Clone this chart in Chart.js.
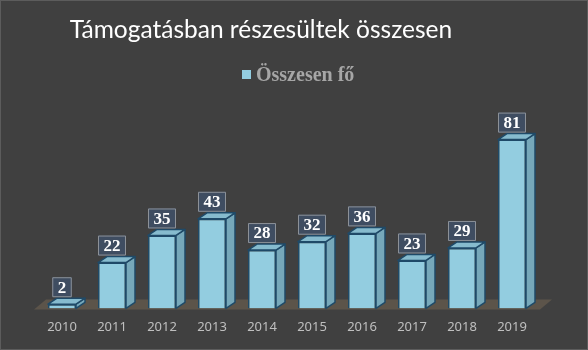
<!DOCTYPE html>
<html>
<head>
<meta charset="utf-8">
<script src="https://cdn.jsdelivr.net/npm/chart.js@4/dist/chart.umd.min.js"></script>
<style>
  html, body { margin: 0; padding: 0; background: #404040; }
  #wrap { position: relative; width: 588px; height: 350px; overflow: hidden; }
  #wrap canvas { position: absolute; left: 0; top: 0; }
  #title {
    position: absolute; left: 0; top: 13px; width: 522px;
    text-align: center; color: #ffffff;
    font: 24.5px Lato, "Noto Sans", sans-serif; line-height: 32px;
  }
  #legend {
    position: absolute; left: 242px; top: 63px; height: 22px;
    display: flex; align-items: center;
    font: bold 20px "Liberation Serif", serif; color: #a6a6a6;
  }
  #legend .swatch { width: 9px; height: 9px; margin-right: 5px; }
  #frame { position: absolute; inset: 0; border: 1px solid #5c5c5c; pointer-events: none; }
</style>
</head>
<body>
<div id="wrap">
  <canvas id="chart" width="588" height="350"></canvas>
  <div id="title"></div>
  <div id="legend"><span class="swatch"></span><span class="label"></span></div>
  <div id="frame"></div>
</div>
<script>
const chartTitle = "Támogatásban részesültek összesen";
const seriesName = "Összesen fő";
const years = ["2010", "2011", "2012", "2013", "2014", "2015", "2016", "2017", "2018", "2019"];
const totals = [2, 22, 35, 43, 28, 32, 36, 23, 29, 81];

const frontColor = "#93cde0";
const sideColor = "#76a8ba";
const topColor = "#86bbce";
const edgeColor = "#1f4a68";
const floorColor = "#5c544a";
const depthX = 9;
const depthY = 6;

document.getElementById("title").textContent = chartTitle;
document.querySelector("#legend .label").textContent = seriesName;
document.querySelector("#legend .swatch").style.background = frontColor;

// floor, 3D side/top faces and boxed value labels
const bar3d = {
  id: "bar3d",
  beforeDraw(chart) {
    const ctx = chart.ctx;
    ctx.save();
    ctx.fillStyle = "#404040";
    ctx.fillRect(0, 0, chart.width, chart.height);
    ctx.restore();
  },
  beforeDatasetsDraw(chart) {
    const ctx = chart.ctx;
    const bars = chart.getDatasetMeta(0).data;
    const base = chart.scales.y.getPixelForValue(0);
    const first = bars[0];
    const last = bars[bars.length - 1];
    const x0 = first.x - first.width / 2 - 14;
    const x1 = last.x + last.width / 2 + 14;
    ctx.save();
    ctx.fillStyle = floorColor;
    ctx.beginPath();
    ctx.moveTo(x0, base + 1);
    ctx.lineTo(x1, base + 1);
    ctx.lineTo(x1 + 12, base - 9);
    ctx.lineTo(x0 + 12, base - 9);
    ctx.closePath();
    ctx.fill();
    ctx.restore();
  },
  afterDatasetsDraw(chart) {
    const ctx = chart.ctx;
    const bars = chart.getDatasetMeta(0).data;
    const values = chart.data.datasets[0].data;
    ctx.save();
    ctx.lineWidth = 1.5;
    ctx.strokeStyle = edgeColor;
    ctx.lineJoin = "round";
    bars.forEach((bar, i) => {
      const left = bar.x - bar.width / 2;
      const right = bar.x + bar.width / 2;
      const top = bar.y;
      const base = bar.base;

      // right side
      ctx.fillStyle = sideColor;
      ctx.beginPath();
      ctx.moveTo(right, top);
      ctx.lineTo(right + depthX, top - depthY);
      ctx.lineTo(right + depthX, base - depthY);
      ctx.lineTo(right, base);
      ctx.closePath();
      ctx.fill();
      ctx.stroke();

      // top face
      ctx.fillStyle = topColor;
      ctx.beginPath();
      ctx.moveTo(left, top);
      ctx.lineTo(left + depthX, top - depthY);
      ctx.lineTo(right + depthX, top - depthY);
      ctx.lineTo(right, top);
      ctx.closePath();
      ctx.fill();
      ctx.stroke();

      // value label
      const text = String(values[i]);
      ctx.font = "bold 17px 'Liberation Serif', serif";
      const w = ctx.measureText(text).width + 11;
      const h = 20;
      const bx = bar.x - w / 2;
      const by = top - depthY - 1 - h;
      ctx.fillStyle = "#3f4d61";
      ctx.fillRect(bx, by, w, h);
      ctx.lineWidth = 1;
      ctx.strokeStyle = "#8c9198";
      ctx.strokeRect(bx + 0.5, by + 0.5, w - 1, h - 1);
      ctx.fillStyle = "#ffffff";
      ctx.textAlign = "center";
      ctx.textBaseline = "middle";
      ctx.fillText(text, bar.x, by + h / 2 + 1);
      ctx.lineWidth = 1.5;
      ctx.strokeStyle = edgeColor;
    });
    ctx.restore();
  }
};

new Chart(document.getElementById("chart"), {
  type: "bar",
  data: {
    labels: years,
    datasets: [{
      label: seriesName,
      data: totals,
      backgroundColor: frontColor,
      borderColor: edgeColor,
      borderWidth: 1.5,
      barPercentage: 0.56,
      categoryPercentage: 1
    }]
  },
  options: {
    responsive: false,
    animation: false,
    devicePixelRatio: 1,
    layout: { padding: { top: 100, left: 37, right: 51, bottom: 4 } },
    plugins: {
      legend: { display: false },
      title: { display: false },
      tooltip: { enabled: false }
    },
    scales: {
      x: {
        grid: { display: false, drawTicks: false },
        border: { display: false },
        ticks: {
          color: "#bfbfbf",
          padding: 11,
          font: { family: "'Noto Sans', sans-serif", size: 13 }
        }
      },
      y: {
        display: false,
        min: 0,
        max: 100
      }
    }
  },
  plugins: [bar3d]
});
</script>
</body>
</html>
